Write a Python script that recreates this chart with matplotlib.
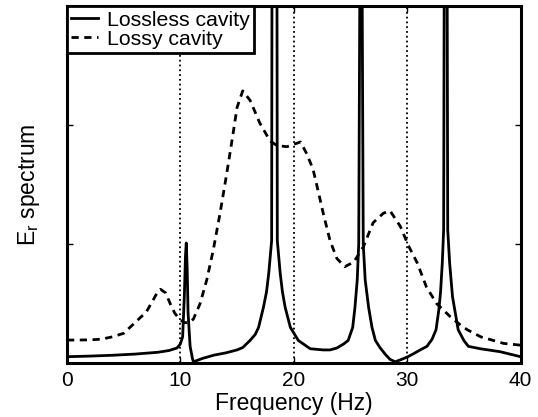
import numpy as np
import matplotlib
matplotlib.use('Agg')
import matplotlib.pyplot as plt

# Helvetica-like look
plt.rcParams['font.family'] = ['Liberation Sans', 'DejaVu Sans']
plt.rcParams['mathtext.fontset'] = 'custom'
plt.rcParams['mathtext.rm'] = 'Liberation Sans'
plt.rcParams['mathtext.it'] = 'Liberation Sans'

# Lossless cavity (peaks run off the top)
lossless_f = [0, 2, 4, 6, 8, 9, 9.7, 10.0, 10.2, 10.35, 10.45, 10.52, 10.6,
              10.68, 10.86, 11.06, 11.15, 12.0, 13.0, 14.0, 15.0, 15.5, 16.15,
              16.6, 16.9, 17.33, 17.6, 17.8, 18.05, 18.08, 18.3, 18.52, 18.55,
              18.8, 19.0, 19.24, 19.7, 20.4, 21.45, 22.6, 23.2, 23.8, 24.4, 24.8,
              25.2, 25.4, 25.6, 25.73, 25.83, 25.93, 26.03, 26.13, 26.3, 26.6,
              26.9, 27.2, 27.6, 28.1, 28.5, 28.95, 29.5, 30.07, 30.6, 31.15,
              31.75, 32.2, 32.55, 32.8, 32.95, 33.1, 33.22, 33.27, 33.4, 33.53,
              33.58, 33.75, 34.0, 34.5, 35.0, 35.4, 36.45, 38.2, 40]
lossless_e = [0.053, 0.058, 0.065, 0.075, 0.09, 0.105, 0.126, 0.16, 0.22, 0.56,
              0.9, 1.01, 0.8, 0.42, 0.14, 0.04, 0.01, 0.04, 0.067, 0.085, 0.11,
              0.13, 0.19, 0.24, 0.30, 0.47, 0.6, 0.76, 1.03, 3.2, 6.0, 3.2, 1.03,
              0.76, 0.6, 0.47, 0.30, 0.19, 0.12, 0.11, 0.11, 0.126, 0.16, 0.19,
              0.30, 0.47, 0.70, 1.0, 3.2, 6.0, 3.2, 1.0, 0.70, 0.47, 0.30, 0.19,
              0.13, 0.07, 0.03, 0.01, 0.03, 0.053, 0.08, 0.11, 0.14, 0.2, 0.28,
              0.45, 0.6, 0.84, 1.12, 3.2, 6.0, 3.2, 1.12, 0.84, 0.56, 0.28, 0.19,
              0.14, 0.12, 0.095, 0.053]

# Lossy cavity
lossy_f = [0, 1, 2, 3, 4, 5, 6, 7, 7.6, 8.0, 8.25, 8.7, 9.1, 9.5, 9.83, 10.3,
           10.8, 11.15, 11.74, 12.33, 12.9, 13.5, 14.1, 14.6, 15.0, 15.5, 16.15,
           17.0, 17.9, 18.5, 19.4, 20.3, 20.6, 21.15, 21.7, 22.0, 22.6, 23.2,
           23.8, 24.5, 25.3, 26.15, 27.0, 27.9, 28.5, 29.4, 30.1, 30.9, 31.7,
           32.6, 33.8, 34.7, 35.3, 36.5, 38.5, 40]
lossy_e = [0.193, 0.193, 0.195, 0.2, 0.22, 0.25, 0.34, 0.43, 0.53, 0.60, 0.62,
           0.59, 0.5, 0.42, 0.38, 0.34, 0.34, 0.37, 0.5, 0.70, 0.95, 1.26, 1.6,
           1.9, 2.15, 2.29, 2.21, 2.02, 1.87, 1.83, 1.82, 1.85, 1.86, 1.76, 1.63,
           1.51, 1.26, 1.03, 0.88, 0.81, 0.85, 0.98, 1.18, 1.26, 1.28, 1.15,
           0.99, 0.84, 0.64, 0.50, 0.39, 0.32, 0.28, 0.22, 0.165, 0.15]

xticks = [0, 10, 20, 30, 40]

fig = plt.figure(figsize=(5.38, 4.17), dpi=100)
ax = fig.add_axes([0.1245, 0.1295, 0.843, 0.855])

ax.plot(lossless_f, lossless_e, color='black', lw=2.0, label='Lossless cavity')
ax.plot(lossy_f, lossy_e, color='black', lw=2.0, ls=(0, (2.6, 2.0)),
        label='Lossy cavity')

ax.set_xlim(0, 40)
ax.set_ylim(0, 3)
ax.set_xticks(xticks)
ax.set_xticklabels([str(t) for t in xticks])
ax.set_yticks([0, 1, 2, 3])
ax.tick_params(direction='in', length=4, width=1, top=True, right=True,
               labelleft=False, labelsize=15, pad=6)

# dotted lines at 10, 20, 30
ax.grid(True, axis='x', color='black', ls=':', lw=1.3)

for s in ax.spines.values():
    s.set_linewidth(2.2)

ax.set_xlabel('Frequency (Hz)', fontsize=16.5, labelpad=1)
ax.set_ylabel('$\\mathregular{E_r}$ spectrum', fontsize=16.5, labelpad=18)

leg = ax.legend(loc='upper left', borderaxespad=0, fontsize=15.3,
                fancybox=False, framealpha=1, edgecolor='black',
                handlelength=1.25, handletextpad=0.45, labelspacing=0.0,
                borderpad=0.2)
leg.get_frame().set_linewidth(2)

fig.savefig('out.png', dpi=100)
